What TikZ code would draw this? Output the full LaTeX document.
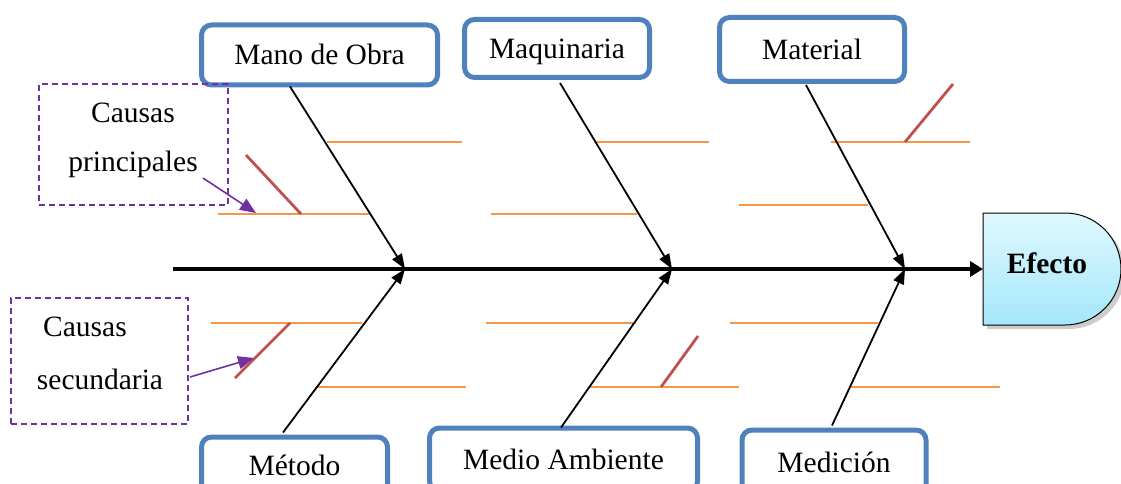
\documentclass[tikz,border=0pt]{standalone}
\usepackage{fontspec}
\setmainfont{Liberation Serif}
\usetikzlibrary{arrows.meta,calc}
\definecolor{boxblue}{HTML}{4F81BD}
\definecolor{boneorange}{HTML}{F79646}
\definecolor{bonered}{HTML}{C0504D}
\definecolor{notepurple}{HTML}{7030A0}
\definecolor{efftop}{HTML}{E0F8FE}
\definecolor{effbot}{HTML}{A4E7FB}
\tikzset{
  catbox/.style={draw=boxblue, line width=5pt, rounded corners=10pt, fill=white,
    inner sep=0pt, text height=24pt, text depth=4pt, font=\fontsize{29.5}{34}\selectfont},
  bone/.style={line width=1.8pt, -{Triangle[length=15pt,width=11pt]}},
  spine/.style={line width=3.5pt, -{Triangle[length=13pt,width=15pt]}},
  sub/.style={draw=boneorange, line width=2.8pt},
  subsub/.style={draw=bonered, line width=2.8pt},
  notebox/.style={draw=notepurple, dashed, dash pattern=on 6pt off 4pt, line width=1.3pt,
    inner sep=0pt},
  notetext/.style={font=\fontsize{29.5}{34}\selectfont},
  notearrow/.style={draw=notepurple, line width=1.6pt, -{Triangle[length=16pt,width=13pt]}}
}
\begin{document}
\begin{tikzpicture}[x=1pt,y=-1pt]
\useasboundingbox (0,0) rectangle (1121,484);

% category boxes
\node[catbox, minimum width=236pt, minimum height=60pt] (mano) at (319.5,55) {Mano de Obra};
\node[catbox, minimum width=185pt, minimum height=58pt] (maq) at (557,48.5) {Maquinaria};
\node[catbox, minimum width=185pt, minimum height=64pt] (mat) at (812,49.5) {Material};
\node[catbox, minimum width=186pt, minimum height=57pt, anchor=north] (met) at (294.5,434.5) {Método};
\node[catbox, minimum width=268pt, minimum height=63pt, anchor=north] (med) at (563.5,425.5) {Medio Ambiente};
\node[catbox, minimum width=184pt, minimum height=65pt, anchor=north] (mdc) at (834,427.5) {Medición};

% effect box
\fill[black!20] (987,217) -- (1069,217) arc[start angle=-90,end angle=90,radius=56] -- (987,329) -- cycle;
\shade[top color=efftop, bottom color=effbot, draw=black, line width=1pt]
  (983,213) -- (1065,213) arc[start angle=-90,end angle=90,radius=56] -- (983,325) -- cycle;
\node[font=\fontsize{29.5}{34}\selectfont\bfseries] (eff) at (1047,263) {Efecto};
\coordinate (effin) at (983,269);

% spine
\coordinate (tail) at (173,269);
\coordinate (j1) at (405,269);
\coordinate (j2) at (672,269);
\coordinate (j3) at (905,269);
\draw[spine] (tail) -- (effin);

% orange sub-causes
\draw[sub] (327,142) -- (462,142);
\draw[sub] (595,142) -- (709,142);
\draw[sub] (831,142) -- (970,142);
\draw[sub] (218,214) -- (370,214);
\draw[sub] (491,214) -- (637,214);
\draw[sub] (739,205) -- (868,205);
\draw[sub] (211,323) -- (362,323);
\draw[sub] (486,323) -- (636,323);
\draw[sub] (730,323) -- (878,323);
\draw[sub] (316,387) -- (466,387);
\draw[sub] (589,387) -- (739,387);
\draw[sub] (849,387) -- (1000,387);

% red sub-sub-causes
\draw[subsub] (246,155) -- (301,214);
\coordinate (r2a) at (290,323);
\coordinate (r2b) at (235,378);
\draw[subsub] (r2a) -- (r2b);
\draw[subsub] (905,142) -- (953,84);
\draw[subsub] (661,387) -- (698,336);

% main bones
\draw[bone] ($(mano.south)+(-29.5,-1)$) -- (j1);
\draw[bone] ($(maq.south)+(3,3)$) -- (j2);
\draw[bone] ($(mat.south)+(-6,1)$) -- (j3);
\draw[bone] ($(met.north)+(-11.5,-2)$) -- (j1);
\draw[bone] ($(med.north)+(-2.5,2)$) -- (j2);
\draw[bone] ($(mdc.north)+(-2,-2)$) -- (j3);

% notes
\node[notebox, minimum width=189pt, minimum height=121pt] (cp) at (133.5,144.5) {};
\node[notetext] (cpt1) at (133,113) {Causas};
\node[notetext] (cpt2) at (133,164) {principales};
\node[notebox, minimum width=177pt, minimum height=126pt] (cs) at (99.5,361) {};
\node[notetext] (cst1) at (85,327) {Causas};
\node[notetext] (cst2) at (100,379) {secundaria};
\coordinate (cpa) at (203,178);
\coordinate (cpb) at (256,213);
\coordinate (csa) at (190,377);
\coordinate (csb) at (254,358);
\draw[notearrow] (cpa) -- (cpb);
\draw[notearrow] (csa) -- (csb);
\end{tikzpicture}
\end{document}
